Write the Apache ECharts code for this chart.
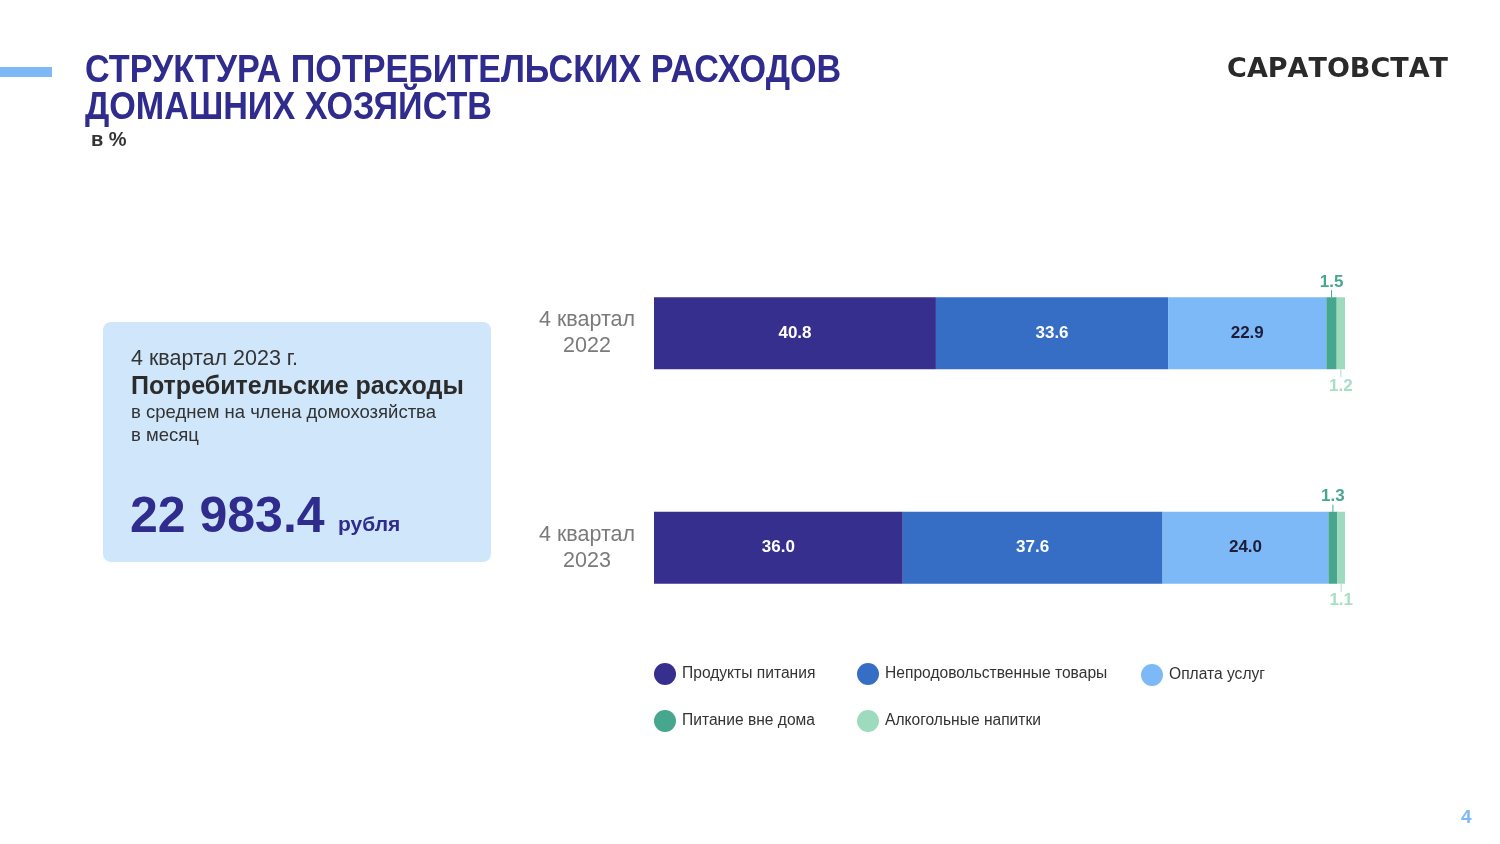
<!DOCTYPE html>
<html><head><meta charset="utf-8">
<script src="https://cdn.jsdelivr.net/npm/echarts@6/dist/echarts.min.js"></script>
<style>html,body{margin:0;padding:0;background:#fff}#c{width:1500px;height:844px}</style>
</head><body><div id="c"></div>
<script>
const categories = ['4 квартал\n2022', '4 квартал\n2023'];
const seriesNames = ['Продукты питания', 'Непродовольственные товары', 'Оплата услуг', 'Питание вне дома', 'Алкогольные напитки'];
const food = [40.8, 36.0];
const nonFood = [33.6, 37.6];
const services = [22.9, 24.0];
const eatingOut = [1.5, 1.3];
const alcohol = [1.2, 1.1];
const colors = ['#372F8E', '#356EC4', '#7DB8F7', '#46A68E', '#9EDBBE'];
const titleText = 'СТРУКТУРА ПОТРЕБИТЕЛЬСКИХ РАСХОДОВ\nДОМАШНИХ ХОЗЯЙСТВ';
const unitText = 'в %';
const brandText = 'САРАТОВСТАТ';
const boxPeriod = '4 квартал 2023 г.';
const boxHeading = 'Потребительские расходы';
const boxSub = 'в среднем на члена домохозяйства\nв месяц';
const boxValue = '22 983.4';
const boxUnit = 'рубля';
const pageNum = '4';

const chart = echarts.init(document.getElementById('c'), null, {renderer: 'canvas'});
const FONT = '"Liberation Sans", Arial, sans-serif';

function insideLabel(color) {
  return {show: true, position: 'inside', color: color, fontSize: 17, fontWeight: 'bold', fontFamily: FONT,
    formatter: p => p.value.toFixed(1)};
}
const allData = [food, nonFood, services, eatingOut, alcohol];
const series = allData.map((d, i) => {
  const s = {name: seriesNames[i], type: 'bar', stack: 'total', data: d, barWidth: 72,
    itemStyle: {color: colors[i]}, emphasis: {disabled: true}};
  if (i === 0 || i === 1) s.label = insideLabel('#ffffff');
  if (i === 2) s.label = insideLabel('#1d1d3a');
  if (i === 3) s.label = {show: true, position: 'top', distance: 0, fontFamily: FONT,
    formatter: p => '{v|' + p.value.toFixed(1) + '}\n{l|}',
    rich: {v: {fontSize: 17, fontWeight: 'bold', color: '#46A68E', fontFamily: FONT, lineHeight: 16},
           l: {width: 1, height: 7, backgroundColor: '#46A68E'}}};
  if (i === 4) s.label = {show: true, position: 'bottom', distance: 0, fontFamily: FONT,
    formatter: p => '{l|}\n{v|' + p.value.toFixed(1) + '}',
    rich: {v: {fontSize: 17, fontWeight: 'bold', color: '#A9DEC6', fontFamily: FONT, lineHeight: 18},
           l: {width: 1, height: 8, backgroundColor: '#A9DEC6'}}};
  return s;
});

const legendPos = [[654, 663], [857, 663], [1141, 664], [654, 710], [857, 710]];
const legends = seriesNames.map((n, i) => ({
  data: [n], left: legendPos[i][0], top: legendPos[i][1], padding: 0, icon: 'circle', itemWidth: 22, itemHeight: 22, itemGap: 0,
  selectedMode: false, textStyle: {fontSize: 15.6, color: '#333', fontFamily: FONT, padding: [0, 0, 0, 1]}
}));

chart.setOption({
  backgroundColor: '#ffffff',
  animation: false,
  grid: {left: 654, right: 155, top: 226, height: 429},
  xAxis: {type: 'value', min: 0, max: 100, show: false},
  yAxis: {type: 'category', data: categories, inverse: true,
    axisLine: {show: false}, axisTick: {show: false},
    axisLabel: {margin: 67, align: 'center', fontSize: 21.5, lineHeight: 26, color: '#7a7a7a', fontFamily: FONT}},
  legend: legends,
  series: series,
  graphic: [
    {type: 'rect', shape: {x: 0, y: 67, width: 52, height: 10}, style: {fill: '#7DB8F7'}},
    {type: 'text', x: 85, y: 53, scaleX: 0.875, style: {text: titleText, fontSize: 39, lineHeight: 36.5, fontWeight: 'bold',
      fill: '#2F2C8E', fontFamily: FONT}},
    {type: 'text', left: 91, top: 130, style: {text: unitText, fontSize: 20, fontWeight: 'bold', fill: '#333', fontFamily: FONT}},
    {type: 'text', right: 52, top: 56, style: {text: brandText, fontSize: 27, fontWeight: 'bold', fill: '#2a2a2a', fontFamily: '"DejaVu Sans", sans-serif'}},
    {type: 'rect', shape: {x: 103, y: 322, width: 388, height: 240, r: 8}, style: {fill: '#D0E6FB'}},
    {type: 'text', left: 131, top: 348, style: {text: boxPeriod, fontSize: 21.5, fill: '#333', fontFamily: FONT}},
    {type: 'text', left: 131, top: 375, style: {text: boxHeading, fontSize: 25, fontWeight: 'bold', fill: '#2b2b2b', fontFamily: FONT}},
    {type: 'text', left: 131, top: 401, style: {text: boxSub, fontSize: 18.5, lineHeight: 23, fill: '#333', fontFamily: FONT}},
    {type: 'text', left: 130, top: 493, style: {text: boxValue, fontSize: 50, fontWeight: 'bold', fill: '#2F2C8E', fontFamily: FONT}},
    {type: 'text', left: 338, top: 515, style: {text: boxUnit, fontSize: 21, fontWeight: 'bold', fill: '#2F2C8E', fontFamily: FONT}},
    {type: 'text', left: 1461, top: 808, style: {text: pageNum, fontSize: 19, fontWeight: 'bold', fill: '#7DB8F7', fontFamily: FONT}}
  ]
});
</script></body></html>
